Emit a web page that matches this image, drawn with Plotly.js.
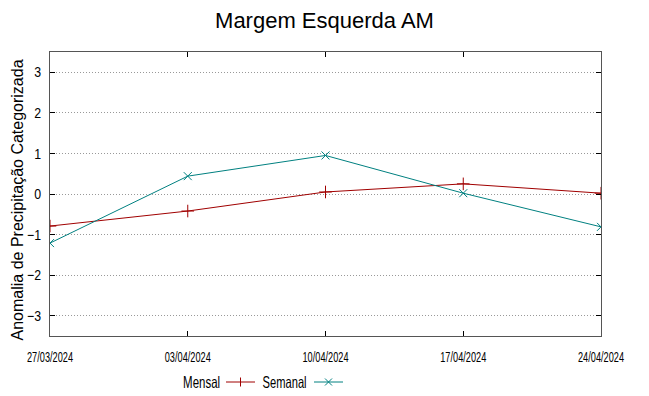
<!DOCTYPE html>
<html><head><meta charset="utf-8">
<script src="https://cdn.plot.ly/plotly-3.0.1.min.js"></script>
<style>html,body{margin:0;padding:0;background:#fff}#chart{width:649px;height:396px}</style>
</head><body><div id="chart"></div>
<script>
const dates = ["2024-03-27","2024-04-03","2024-04-10","2024-04-17","2024-04-24"];
const tickLabels = ["27/03/2024","03/04/2024","10/04/2024","17/04/2024","24/04/2024"];
const mensal = [-0.79, -0.42, 0.05, 0.25, 0.02];
const semanal = [-1.21, 0.44, 0.95, 0.02, -0.81];
const yTicks = [-3,-2,-1,0,1,2,3];
const seriesNames = ["Mensal", "Semanal"];

const L=50, R=601, T=52, B=336;
const px = x => (x-L)/(R-L);
const py = y => (B-y)/(B-T);

const redC = "#a00000", tealC = "#008080";
const fam = "Liberation Sans, Arial, sans-serif";

const traces = [
  {x: dates, y: mensal, name: seriesNames[0], type: "scatter", mode: "lines+markers",
   line: {color: redC, width: 1}, marker: {symbol: "cross-thin-open", size: 9, color: redC, line:{color:redC,width:1}}},
  {x: dates, y: semanal, name: seriesNames[1], type: "scatter", mode: "lines+markers",
   line: {color: tealC, width: 1}, marker: {symbol: "x-thin-open", size: 8, color: tealC, line:{color:tealC,width:1}}}
];

const legY = 382;
const ln = (x0, y0, x1, y1, color) => ({type: "line", xref: "paper", yref: "paper",
  x0: px(x0), x1: px(x1), y0: py(y0), y1: py(y1), line: {color: color, width: 1}});
const layout = {
  width: 649, height: 396,
  margin: {l: L, r: 649-R, t: T, b: 396-B},
  paper_bgcolor: "#fff", plot_bgcolor: "#fff",
  showlegend: false,
  title: {text: "Margem Esquerda AM", x: 0.5, xanchor: "center", y: 0.95, yanchor: "middle",
          font: {family: fam, size: 22, color: "#000"}},
  xaxis: {type: "date", range: [dates[0], dates[dates.length-1]], tickvals: dates, ticktext: tickLabels,
          showgrid: false, zeroline: false, showline: true, linecolor: "#555", linewidth: 1, mirror: "ticks",
          ticks: "inside", ticklen: 5, tickcolor: "#000", ticklabelstandoff: 8,
          tickfont: {family: fam, size: 14, color: "#000"}},
  yaxis: {range: [-3.5, 3.5], tickvals: yTicks, showgrid: true, gridcolor: "#999", griddash: "1px,2px", gridwidth: 1,
          zeroline: false, showline: true, linecolor: "#555", linewidth: 1, mirror: "ticks",
          ticks: "inside", ticklen: 5, tickcolor: "#000", ticklabelstandoff: 5,
          tickfont: {family: fam, size: 14.5, color: "#000"}},
  shapes: [
    ln(226, legY, 255, legY, redC),
    ln(240.5, legY-4.5, 240.5, legY+4.5, redC),
    ln(314, legY, 343, legY, tealC),
    ln(325, legY-3.5, 332, legY+3.5, tealC),
    ln(325, legY+3.5, 332, legY-3.5, tealC)
  ],
  annotations: [
    {text: "Anomalia de Precipitação Categorizada", xref: "paper", yref: "paper", x: px(16.5), y: py(200),
     xanchor: "center", yanchor: "middle", textangle: -90, showarrow: false,
     font: {family: fam, size: 16, color: "#000"}},
    {text: seriesNames[0], xref: "paper", yref: "paper", x: px(201.5), y: py(legY), xanchor: "center", yanchor: "middle", showarrow: false,
     font: {family: fam, size: 16.5, color: "#000"}},
    {text: seriesNames[1], xref: "paper", yref: "paper", x: px(284), y: py(legY), xanchor: "center", yanchor: "middle", showarrow: false,
     font: {family: fam, size: 16.5, color: "#000"}}
  ]
};
Plotly.newPlot("chart", traces, layout, {displayModeBar: false, staticPlot: true}).then(gd => {
  const squeeze = (el, target) => {
    el.setAttribute("textLength", target);
    el.setAttribute("lengthAdjust", "spacingAndGlyphs");
  };
  gd.querySelectorAll(".xtick text").forEach(el => squeeze(el, 46));
  gd.querySelectorAll(".ytick text").forEach(el => squeeze(el, el.getComputedTextLength() * 0.85));
  gd.querySelectorAll(".annotation-text").forEach(el => {
    const t = el.textContent;
    if (t === seriesNames[0]) squeeze(el, 37);
    else if (t === seriesNames[1]) squeeze(el, 44);
  });
});
</script></body></html>
